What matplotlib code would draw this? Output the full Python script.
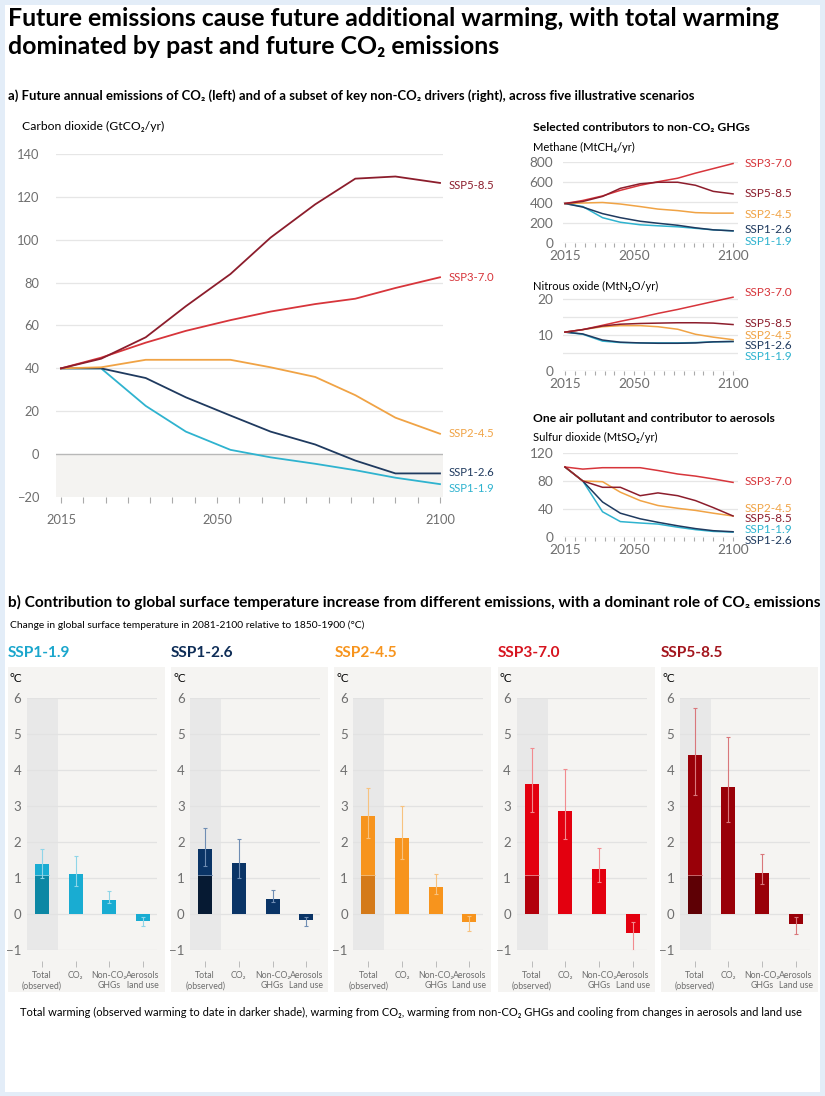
import matplotlib
matplotlib.use('Agg')
import matplotlib.pyplot as plt
from matplotlib.patches import Rectangle

plt.rcParams['font.family'] = ['Lato', 'DejaVu Sans']

# ---- data ----
scenarios = ['SSP1-1.9', 'SSP1-2.6', 'SSP2-4.5', 'SSP3-7.0', 'SSP5-8.5']
years = [2015, 2024, 2034, 2043, 2053, 2062, 2072, 2081, 2090, 2100]

co2_119 = [40, 40, 22.5, 10.5, 2, -1.5, -4.5, -7.5, -11, -14]
co2_126 = [40, 40, 35.5, 26.5, 18, 10.5, 4.5, -3, -9, -9]
co2_245 = [40, 40.5, 44, 44, 44, 40.5, 36, 27.5, 17, 9.5]
co2_370 = [40, 45, 52, 57.5, 62.5, 66.5, 70, 72.5, 77.5, 82.5]
co2_585 = [40, 44.5, 54.5, 69, 84, 101, 116.5, 128.5, 129.5, 126.5]

ch4_119 = [390, 360, 250, 205, 180, 170, 160, 145, 130, 120]
ch4_126 = [390, 355, 290, 250, 215, 195, 175, 150, 130, 120]
ch4_245 = [390, 395, 400, 385, 360, 335, 320, 300, 295, 295]
ch4_370 = [390, 420, 465, 520, 570, 605, 640, 690, 735, 785]
ch4_585 = [390, 410, 460, 540, 585, 600, 600, 570, 510, 485]

n2o_119 = [10.8, 10.2, 8.3, 7.9, 7.8, 7.8, 7.8, 7.9, 8.1, 8.2]
n2o_126 = [10.8, 10.3, 8.6, 8.0, 7.8, 7.7, 7.7, 7.8, 8.1, 8.2]
n2o_245 = [10.8, 11.5, 12.3, 12.6, 12.6, 12.3, 11.6, 10.2, 9.4, 8.7]
n2o_370 = [10.8, 11.5, 12.7, 13.8, 14.9, 16.0, 17.1, 18.2, 19.3, 20.5]
n2o_585 = [10.8, 11.5, 12.5, 13.0, 13.2, 13.3, 13.4, 13.4, 13.3, 12.9]

so2_119 = [100, 80, 36, 22, 20, 18.5, 14, 10.5, 8, 7]
so2_126 = [100, 80, 50, 34, 26, 21, 16, 12, 9, 7.5]
so2_245 = [100, 80, 79, 64, 52, 45, 41, 38, 34, 30]
so2_370 = [100, 97, 99, 99, 99, 95, 90, 87, 83, 78]
so2_585 = [100, 80, 71, 71, 59, 63, 59, 52, 42, 30]

categories = ['Total\n(observed)', 'CO\u2082', 'Non-CO\u2082\nGHGs']
aero_label = ['Aerosols\nland use', 'Aerosols\nLand use', 'Aerosols\nLand use',
              'Aerosols\nLand use', 'Aerosols\nLand use']
observed = 1.07
warming = [[1.4, 1.1, 0.4, -0.2],
           [1.8, 1.41, 0.43, -0.17],
           [2.72, 2.12, 0.76, -0.21],
           [3.62, 2.86, 1.26, -0.54],
           [4.41, 3.53, 1.15, -0.28]]
err_lo = [[1.0, 0.78, 0.3, -0.34],
          [1.32, 0.99, 0.32, -0.34],
          [2.1, 1.54, 0.55, -0.46],
          [2.82, 2.08, 0.88, -1.04],
          [3.3, 2.56, 0.83, -0.55]]
err_hi = [[1.8, 1.6, 0.63, -0.07],
          [2.4, 2.08, 0.66, -0.09],
          [3.51, 3.0, 1.11, -0.06],
          [4.62, 4.02, 1.82, -0.21],
          [5.72, 4.92, 1.66, -0.09]]

line_col = ['#2fb3cf', '#1f3a5f', '#f0a345', '#d7353b', '#8c1d2c']
bar_col = ['#19acd2', '#0a3466', '#f7941d', '#e3000f', '#990008']
obs_col = ['#0c87a4', '#061a33', '#d47a1a', '#b2000c', '#5e0005']
err_col = ['#8fd5e8', '#6f8db3', '#f7c27f', '#f28b8f', '#d9777b']
head_col = ['#1aa6cc', '#0e2d57', '#f7941d', '#d7141f', '#a3151d']

W, H = 825, 1096
fig = plt.figure(figsize=(W / 100, H / 100), dpi=100)
fig.patch.set_facecolor('#e3edf8')
fig.add_artist(Rectangle((5 / W, 1 - 1092 / H), 815 / W, 1087 / H, transform=fig.transFigure,
                         facecolor='white', edgecolor='none', zorder=-10))


def ax_px(x0, y0, x1, y1):
    return fig.add_axes([x0 / W, 1 - y1 / H, (x1 - x0) / W, (y1 - y0) / H])


def txt(x, y, s, **kw):
    fig.text(x / W, 1 - y / H, s, va='center', **kw)


GRAY = '#6e6e6e'

# titles
txt(8, 19, 'Future emissions cause future additional warming, with total warming',
    fontsize=17.9, weight='bold')
txt(8, 46, 'dominated by past and future CO\u2082 emissions', fontsize=17.9, weight='bold')
txt(8, 96, 'a) Future annual emissions of CO\u2082 (left) and of a subset of key non-CO\u2082 drivers (right), '
    'across five illustrative scenarios', fontsize=9.45, weight='bold')

# ---- main CO2 chart ----
txt(22, 126, 'Carbon dioxide (GtCO\u2082/yr)', fontsize=8.7)
ax = ax_px(56, 154, 443, 497)
ax.set_xlim(2013.88, 2100.67)
ax.set_ylim(-20, 140)
ax.axhspan(-20, 0, color='#f4f3f1', zorder=0, lw=0)
for v in range(20, 141, 20):
    ax.axhline(v, color='#e6e6e6', lw=0.9, zorder=1)
ax.axhline(0, color='#b8b8b8', lw=1.0, zorder=1)
ax.set_yticks(range(-20, 141, 20))
ax.set_xticks([2015, 2050, 2100])
ax.set_xticks(range(2015, 2101, 5), minor=True)
ax.tick_params(axis='y', length=0, pad=12, labelsize=9.3, labelcolor=GRAY)
ax.tick_params(axis='x', which='both', length=4, color='#aaaaaa', width=0.8, pad=8,
               labelsize=9.3, labelcolor=GRAY)
for s in ax.spines.values():
    s.set_visible(False)
co2 = [co2_119, co2_126, co2_245, co2_370, co2_585]
co2_lab = [-16.2, -8.6, 9.4, 82.2, 125.1]
for i, name in enumerate(scenarios):
    ax.plot(years, co2[i], color=line_col[i], lw=1.3, zorder=3)
    ax.text(2102, co2_lab[i], name, color=line_col[i], fontsize=8.2, va='center', clip_on=False)


# ---- small charts ----
def small(top, bot, series, ylim, yticks, grid, labs):
    a = ax_px(563, top, 738, bot)
    a.set_xlim(2013.99, 2102.5)
    a.set_ylim(*ylim)
    for v in grid:
        a.axhline(v, color='#e6e6e6', lw=0.9, zorder=1)
    a.axhline(0, color='#cfcfcf', lw=0.9, zorder=1)
    a.set_yticks(yticks)
    a.set_xticks([2015, 2050, 2100])
    a.set_xticks(range(2015, 2101, 5), minor=True)
    a.tick_params(axis='y', length=0, pad=7, labelsize=9.8, labelcolor=GRAY)
    a.tick_params(axis='x', which='both', length=3, color='#aaaaaa', width=0.8, pad=2,
                  labelsize=9.8, labelcolor=GRAY)
    for s in a.spines.values():
        s.set_visible(False)
    for i, name in enumerate(scenarios):
        a.plot(years, series[i], color=line_col[i], lw=1.1, zorder=3)
        a.text(2106, labs[i], name, color=line_col[i], fontsize=8.6, va='center', clip_on=False)
    return a


txt(533, 127, 'Selected contributors to non-CO\u2082 GHGs', fontsize=8.7, weight='bold')
txt(533, 147, 'Methane (MtCH\u2084/yr)', fontsize=8)
small(162, 243, [ch4_119, ch4_126, ch4_245, ch4_370, ch4_585], (0, 800),
      [0, 200, 400, 600, 800], [200, 400, 600, 800], [10, 138, 286, 790, 484])

txt(533, 286, 'Nitrous oxide (MtN\u2082O/yr)', fontsize=8)
small(295.4, 371, [n2o_119, n2o_126, n2o_245, n2o_370, n2o_585], (0, 21),
      [0, 10, 20], [5, 10, 15, 20], [4.1, 7.1, 9.8, 21.9, 13.3])

txt(533, 418, 'One air pollutant and contributor to aerosols', fontsize=8.7, weight='bold')
txt(533, 437, 'Sulfur dioxide (MtSO\u2082/yr)', fontsize=8)
small(453, 537, [so2_119, so2_126, so2_245, so2_370, so2_585], (0, 120),
      [0, 40, 80, 120], [40, 80, 120], [10.5, -4.5, 41.4, 78.6, 26.5])

# ---- panel b ----
txt(8, 602, 'b) Contribution to global surface temperature increase from different emissions, '
    'with a dominant role of CO\u2082 emissions', fontsize=11.1, weight='bold')
txt(10, 625, 'Change in global surface temperature in 2081-2100 relative to 1850-1900 (\u00b0C)', fontsize=7.4)

step = 33.67
for k, name in enumerate(scenarios):
    x0 = 8 + k * 163.2
    fig.add_artist(Rectangle((x0 / W, 1 - 992 / H), 157 / W, 325 / H, transform=fig.transFigure,
                             facecolor='#f5f4f2', edgecolor='none', zorder=-5))
    txt(x0, 653, name, fontsize=11.1, weight='bold', color=head_col[k])
    txt(x0 + 2, 679, '\u00b0C', fontsize=8.5)
    b = ax_px(x0 + 19, 698, x0 + 149, 950)
    b.patch.set_alpha(0)
    b.set_xlim(-15 / step, 3 + 14 / step)
    b.set_ylim(-1, 6)
    b.axvspan(-15 / step, 16 / step, color='#e8e8e8', lw=0, zorder=0)
    for v in range(-1, 7):
        b.axhline(v, color='#e2e2e2', lw=0.9, zorder=1)
    xs = range(4)
    vals = warming[k]
    b.bar(xs, vals, width=14 / step, color=bar_col[k], zorder=3)
    b.bar(0, observed, width=14 / step, color=obs_col[k], zorder=3)
    b.plot([-7 / step, 7 / step], [observed, observed], color=err_col[k], lw=0.6, zorder=4)
    lo = [vals[j] - err_lo[k][j] for j in xs]
    hi = [err_hi[k][j] - vals[j] for j in xs]
    b.errorbar(xs, vals, yerr=[lo, hi], fmt='none', ecolor=err_col[k], elinewidth=0.8,
               capsize=1.5, capthick=0.8, zorder=5)
    b.set_yticks(range(-1, 7))
    b.set_xticks(list(xs))
    b.set_xticklabels(categories + [aero_label[k]], linespacing=0.9)
    b.tick_params(axis='y', length=0, pad=4, labelsize=9.5, labelcolor=GRAY)
    b.tick_params(axis='x', length=4, color='#bbbbbb', width=0.7, pad=3,
                  labelsize=6.3, labelcolor=GRAY)
    for s in b.spines.values():
        s.set_visible(False)
    b.spines['bottom'].set_position(('outward', 8))

txt(20, 1012, 'Total warming (observed warming to date in darker shade), warming from CO\u2082, '
    'warming from non-CO\u2082 GHGs and cooling from changes in aerosols and land use', fontsize=8.0)

fig.savefig('out.png', dpi=100, facecolor=fig.get_facecolor())
